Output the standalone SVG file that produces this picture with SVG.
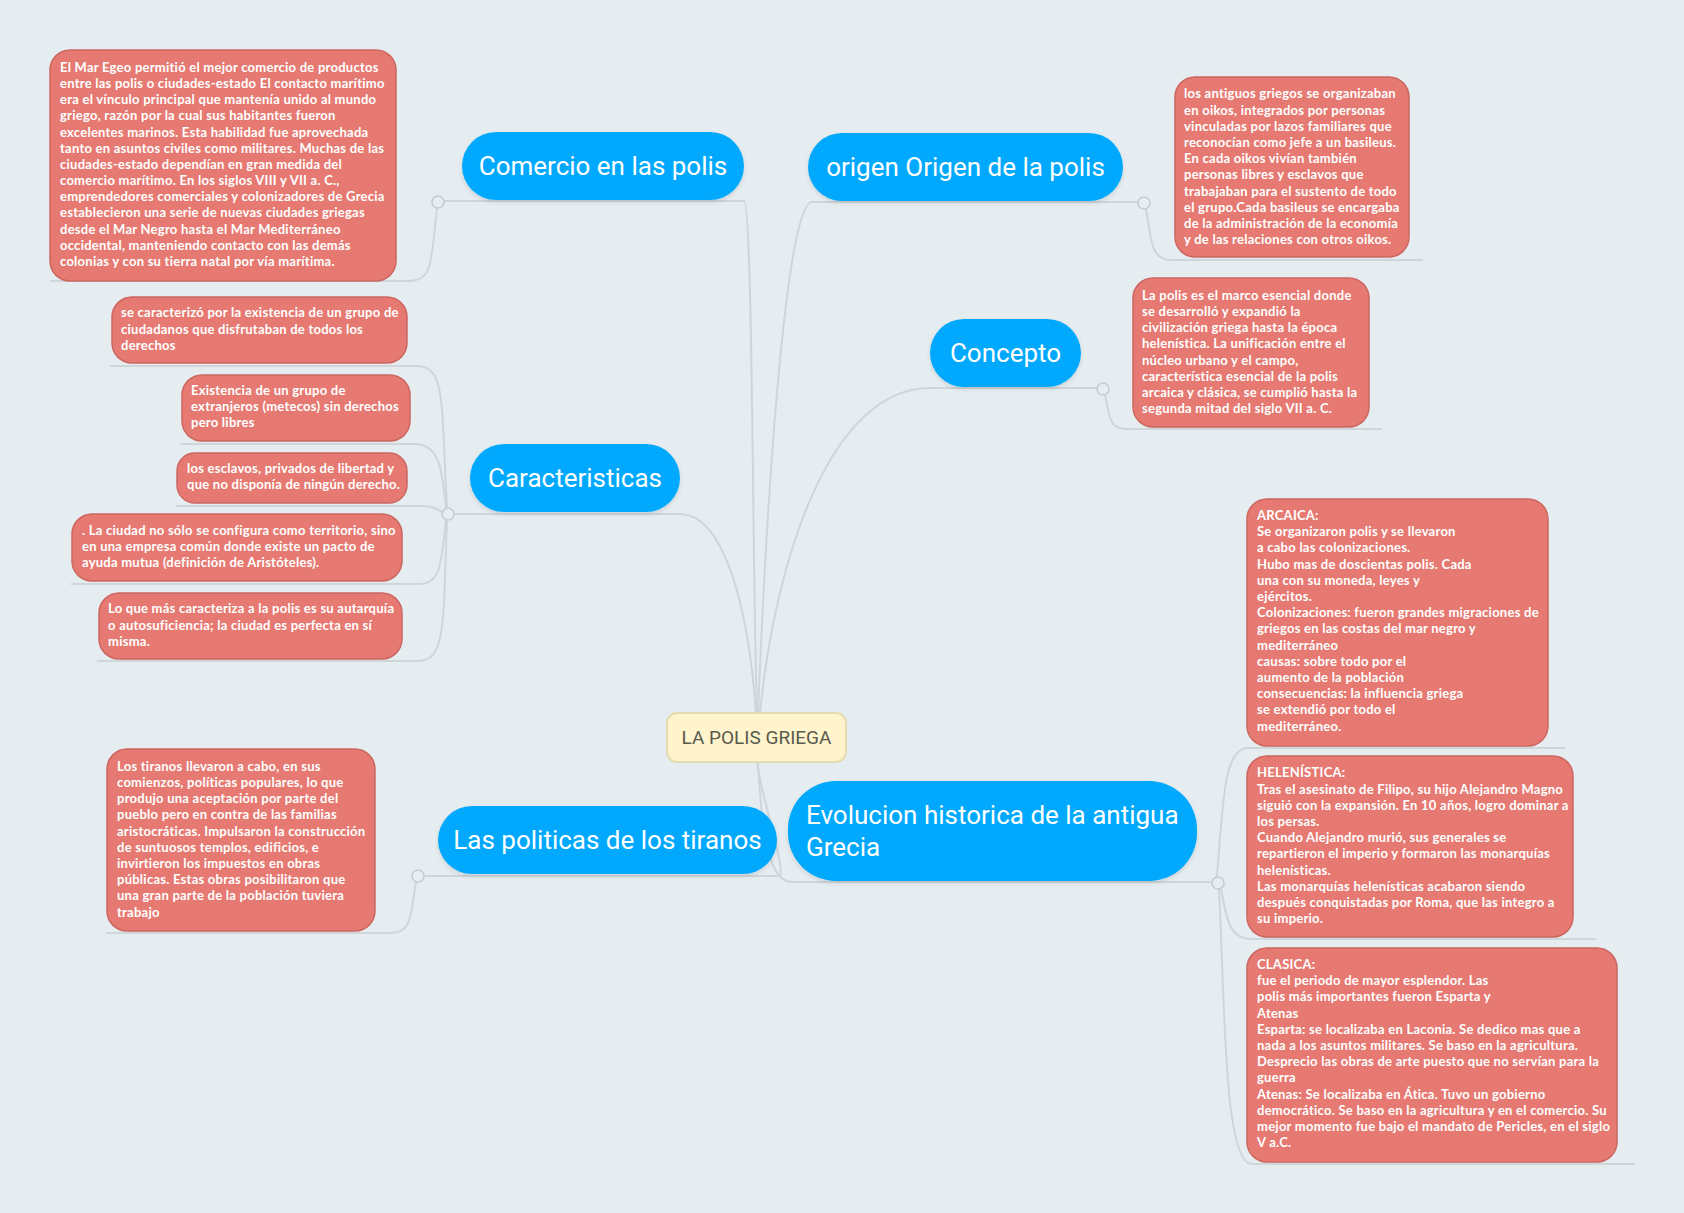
<svg xmlns="http://www.w3.org/2000/svg" width="1684" height="1213" viewBox="0 0 1684 1213">
<defs>
<style>
.conn{fill:none;stroke:#cfd6da;stroke-width:2}
.dot{fill:#e7eef2;stroke:#c5cdd1;stroke-width:1.6}
.pill{fill:#00a9fd;filter:url(#sh)}
.ptxt{font-family:Roboto,"Liberation Sans",sans-serif;font-size:26px;fill:#ffffff}
.box{fill:#e67a72;stroke:#cc6660;stroke-width:1.5}
.btxt{font-family:Lato,"Liberation Sans",sans-serif;font-weight:700;font-size:13px;letter-spacing:0.25px;fill:#ffffff}
.root{fill:#fff4cc;stroke:#e5dbb0;stroke-width:2}
.rtxt{font-family:Roboto,"Liberation Sans",sans-serif;font-size:19px;fill:#5a5a4c}
</style>
<filter id="sh" x="-10%" y="-20%" width="120%" height="150%">
<feDropShadow dx="0" dy="2" stdDeviation="2" flood-color="#000" flood-opacity="0.12"/>
</filter>
</defs>
<rect width="1684" height="1213" fill="#e6edf1"/>

<g id="connectors">
<path class="conn" d="M 438 201 L 744 201 C 753 201, 752 560, 757 713"/>
<path class="conn" d="M 1144 202 L 812 202 C 790 202, 770 420, 758 713"/>
<path class="conn" d="M 1103 388 L 930 388 C 830 388, 775 560, 760 713"/>
<path class="conn" d="M 448 514 L 680 514 C 722 514, 748 600, 756 713"/>
<path class="conn" d="M 418 876 L 779 876 C 788 876, 762 800, 757 762"/>
<path class="conn" d="M 758 762 C 762 840, 770 882, 792 882 L 1218 882"/>
<path class="conn" d="M 437 208 C 431 262, 433 281, 408 281 L 50 281"/>
<path class="conn" d="M 447 508 C 441 400, 446 366, 416 366 L 110 366"/>
<path class="conn" d="M 446 508 C 442 470, 440 444, 414 444 L 180 444"/>
<path class="conn" d="M 442 512 C 436 508, 432 506, 420 506 L 176 506"/>
<path class="conn" d="M 446 520 C 441 565, 441 584, 418 584 L 71 584"/>
<path class="conn" d="M 447 520 C 443 625, 446 661, 418 661 L 97 661"/>
<path class="conn" d="M 416 882 C 410 918, 412 933, 390 933 L 106 933"/>
<path class="conn" d="M 1146 209 C 1152 242, 1150 260, 1172 260 L 1423 260"/>
<path class="conn" d="M 1105 395 C 1110 420, 1110 429, 1127 429 L 1382 429"/>
<path class="conn" d="M 1217 877 C 1223 800, 1224 748, 1248 748 L 1565 748"/>
<path class="conn" d="M 1221 889 C 1227 922, 1230 939, 1252 939 L 1596 939"/>
<path class="conn" d="M 1219 889 C 1225 1010, 1224 1164, 1252 1164 L 1635 1164"/>
<circle class="dot" cx="438" cy="202" r="6"/>
<circle class="dot" cx="448" cy="514" r="6"/>
<circle class="dot" cx="418" cy="876" r="6"/>
<circle class="dot" cx="1144" cy="203" r="6"/>
<circle class="dot" cx="1103" cy="389" r="6"/>
<circle class="dot" cx="1218" cy="883" r="6"/>
</g>

<g id="root">
<rect class="root" x="667" y="713" width="179" height="49" rx="10"/>
<text class="rtxt" x="756.5" y="744" text-anchor="middle">LA POLIS GRIEGA</text>
</g>

<g id="comercio">
<rect class="pill" x="462" y="132" width="282" height="68" rx="34"/>
<text class="ptxt" x="603" y="175" text-anchor="middle">Comercio en las polis</text>
</g>
<g id="origen">
<rect class="pill" x="808" y="133" width="315" height="68" rx="34"/>
<text class="ptxt" x="965.5" y="176" text-anchor="middle">origen Origen de la polis</text>
</g>
<g id="concepto">
<rect class="pill" x="930" y="319" width="151" height="68" rx="34"/>
<text class="ptxt" x="1005.5" y="362" text-anchor="middle">Concepto</text>
</g>
<g id="caracteristicas">
<rect class="pill" x="470" y="444" width="210" height="68" rx="34"/>
<text class="ptxt" x="575" y="487" text-anchor="middle">Caracteristicas</text>
</g>
<g id="politicas">
<rect class="pill" x="438" y="806" width="339" height="68" rx="34"/>
<text class="ptxt" x="607.5" y="849" text-anchor="middle">Las politicas de los tiranos</text>
</g>
<g id="evolucion">
<rect class="pill" x="788" y="781" width="409" height="100" rx="48"/>
<text class="ptxt" x="806" y="824">Evolucion historica de la antigua</text>
<text class="ptxt" x="806" y="856">Grecia</text>
</g>

<g id="comercio-detalle">
<rect class="box" x="50" y="50" width="346" height="231" rx="20"/>
<text class="btxt" y="71.7"><tspan x="60">El Mar Egeo permitió el mejor comercio de productos</tspan><tspan x="60" dy="16.2">entre las polis o ciudades-estado El contacto marítimo</tspan><tspan x="60" dy="16.2">era el vínculo principal que mantenía unido al mundo</tspan><tspan x="60" dy="16.2">griego, razón por la cual sus habitantes fueron</tspan><tspan x="60" dy="16.2">excelentes marinos. Esta habilidad fue aprovechada</tspan><tspan x="60" dy="16.2">tanto en asuntos civiles como militares. Muchas de las</tspan><tspan x="60" dy="16.2">ciudades-estado dependían en gran medida del</tspan><tspan x="60" dy="16.2">comercio marítimo. En los siglos VIII y VII a. C.,</tspan><tspan x="60" dy="16.2">emprendedores comerciales y colonizadores de Grecia</tspan><tspan x="60" dy="16.2">establecieron una serie de nuevas ciudades griegas</tspan><tspan x="60" dy="16.2">desde el Mar Negro hasta el Mar Mediterráneo</tspan><tspan x="60" dy="16.2">occidental, manteniendo contacto con las demás</tspan><tspan x="60" dy="16.2">colonias y con su tierra natal por vía marítima.</tspan></text>
</g>

<g id="car-1">
<rect class="box" x="112" y="297" width="295" height="66" rx="20"/>
<text class="btxt" y="317.3"><tspan x="121">se caracterizó por la existencia de un grupo de</tspan><tspan x="121" dy="16.2">ciudadanos que disfrutaban de todos los</tspan><tspan x="121" dy="16.2">derechos</tspan></text>
</g>
<g id="car-2">
<rect class="box" x="182" y="375" width="228" height="66" rx="20"/>
<text class="btxt" y="395"><tspan x="191">Existencia de un grupo de</tspan><tspan x="191" dy="16.2">extranjeros (metecos) sin derechos</tspan><tspan x="191" dy="16.2">pero libres</tspan></text>
</g>
<g id="car-3">
<rect class="box" x="177" y="453" width="230" height="50" rx="18"/>
<text class="btxt" y="472.7"><tspan x="187">los esclavos, privados de libertad y</tspan><tspan x="187" dy="16.2">que no disponía de ningún derecho.</tspan></text>
</g>
<g id="car-4">
<rect class="box" x="72" y="514" width="330" height="67" rx="20"/>
<text class="btxt" y="535"><tspan x="82">. La ciudad no sólo se configura como territorio, sino</tspan><tspan x="82" dy="16.2">en una empresa común donde existe un pacto de</tspan><tspan x="82" dy="16.2">ayuda mutua (definición de Aristóteles).</tspan></text>
</g>
<g id="car-5">
<rect class="box" x="99" y="593" width="303" height="66" rx="20"/>
<text class="btxt" y="613.3"><tspan x="108">Lo que más caracteriza a la polis es su autarquía</tspan><tspan x="108" dy="16.2">o autosuficiencia; la ciudad es perfecta en sí</tspan><tspan x="108" dy="16.2">misma.</tspan></text>
</g>

<g id="politicas-detalle">
<rect class="box" x="107" y="749" width="268" height="182" rx="20"/>
<text class="btxt" y="770.7"><tspan x="117">Los tiranos llevaron a cabo, en sus</tspan><tspan x="117" dy="16.2">comienzos, políticas populares, lo que</tspan><tspan x="117" dy="16.2">produjo una aceptación por parte del</tspan><tspan x="117" dy="16.2">pueblo pero en contra de las familias</tspan><tspan x="117" dy="16.2">aristocráticas. Impulsaron la construcción</tspan><tspan x="117" dy="16.2">de suntuosos templos, edificios, e</tspan><tspan x="117" dy="16.2">invirtieron los impuestos en obras</tspan><tspan x="117" dy="16.2">públicas. Estas obras posibilitaron que</tspan><tspan x="117" dy="16.2">una gran parte de la población tuviera</tspan><tspan x="117" dy="16.2">trabajo</tspan></text>
</g>

<g id="origen-detalle">
<rect class="box" x="1175" y="77" width="234" height="180" rx="20"/>
<text class="btxt" y="98.3"><tspan x="1184">los antiguos griegos se organizaban</tspan><tspan x="1184" dy="16.2">en oikos, integrados por personas</tspan><tspan x="1184" dy="16.2">vinculadas por lazos familiares que</tspan><tspan x="1184" dy="16.2">reconocían como jefe a un basileus.</tspan><tspan x="1184" dy="16.2">En cada oikos vivían también</tspan><tspan x="1184" dy="16.2">personas libres y esclavos que</tspan><tspan x="1184" dy="16.2">trabajaban para el sustento de todo</tspan><tspan x="1184" dy="16.2">el grupo.Cada basileus se encargaba</tspan><tspan x="1184" dy="16.2">de la administración de la economía</tspan><tspan x="1184" dy="16.2">y de las relaciones con otros oikos.</tspan></text>
</g>

<g id="concepto-detalle">
<rect class="box" x="1133" y="278" width="236" height="149" rx="20"/>
<text class="btxt" y="299.7"><tspan x="1142">La polis es el marco esencial donde</tspan><tspan x="1142" dy="16.2">se desarrolló y expandió la</tspan><tspan x="1142" dy="16.2">civilización griega hasta la época</tspan><tspan x="1142" dy="16.2">helenística. La unificación entre el</tspan><tspan x="1142" dy="16.2">núcleo urbano y el campo,</tspan><tspan x="1142" dy="16.2">característica esencial de la polis</tspan><tspan x="1142" dy="16.2">arcaica y clásica, se cumplió hasta la</tspan><tspan x="1142" dy="16.2">segunda mitad del siglo VII a. C.</tspan></text>
</g>

<g id="arcaica">
<rect class="box" x="1247" y="499" width="301" height="247" rx="20"/>
<text class="btxt" y="520"><tspan x="1257">ARCAICA:</tspan><tspan x="1257" dy="16.2">Se organizaron polis y se llevaron</tspan><tspan x="1257" dy="16.2">a cabo las colonizaciones.</tspan><tspan x="1257" dy="16.2">Hubo mas de doscientas polis. Cada</tspan><tspan x="1257" dy="16.2">una con su moneda, leyes y</tspan><tspan x="1257" dy="16.2">ejércitos.</tspan><tspan x="1257" dy="16.2">Colonizaciones: fueron grandes migraciones de</tspan><tspan x="1257" dy="16.2">griegos en las costas del mar negro y</tspan><tspan x="1257" dy="16.2">mediterráneo</tspan><tspan x="1257" dy="16.2">causas: sobre todo por el</tspan><tspan x="1257" dy="16.2">aumento de la población</tspan><tspan x="1257" dy="16.2">consecuencias: la influencia griega</tspan><tspan x="1257" dy="16.2">se extendió por todo el</tspan><tspan x="1257" dy="16.2">mediterráneo.</tspan></text>
</g>

<g id="helenistica">
<rect class="box" x="1247" y="756" width="326" height="181" rx="20"/>
<text class="btxt" y="777.3"><tspan x="1257">HELENÍSTICA:</tspan><tspan x="1257" dy="16.2">Tras el asesinato de Filipo, su hijo Alejandro Magno</tspan><tspan x="1257" dy="16.2">siguió con la expansión. En 10 años, logro dominar a</tspan><tspan x="1257" dy="16.2">los persas.</tspan><tspan x="1257" dy="16.2">Cuando Alejandro murió, sus generales se</tspan><tspan x="1257" dy="16.2">repartieron el imperio y formaron las monarquías</tspan><tspan x="1257" dy="16.2">helenísticas.</tspan><tspan x="1257" dy="16.2">Las monarquías helenísticas acabaron siendo</tspan><tspan x="1257" dy="16.2">después conquistadas por Roma, que las integro a</tspan><tspan x="1257" dy="16.2">su imperio.</tspan></text>
</g>

<g id="clasica">
<rect class="box" x="1247" y="948" width="370" height="214" rx="20"/>
<text class="btxt" y="969"><tspan x="1257">CLASICA:</tspan><tspan x="1257" dy="16.2">fue el periodo de mayor esplendor. Las</tspan><tspan x="1257" dy="16.2">polis más importantes fueron Esparta y</tspan><tspan x="1257" dy="16.2">Atenas</tspan><tspan x="1257" dy="16.2">Esparta: se localizaba en Laconia. Se dedico mas que a</tspan><tspan x="1257" dy="16.2">nada a los asuntos militares. Se baso en la agricultura.</tspan><tspan x="1257" dy="16.2">Desprecio las obras de arte puesto que no servían para la</tspan><tspan x="1257" dy="16.2">guerra</tspan><tspan x="1257" dy="16.2">Atenas: Se localizaba en Ática. Tuvo un gobierno</tspan><tspan x="1257" dy="16.2">democrático. Se baso en la agricultura y en el comercio. Su</tspan><tspan x="1257" dy="16.2">mejor momento fue bajo el mandato de Pericles, en el siglo</tspan><tspan x="1257" dy="16.2">V a.C.</tspan></text>
</g>
</svg>
